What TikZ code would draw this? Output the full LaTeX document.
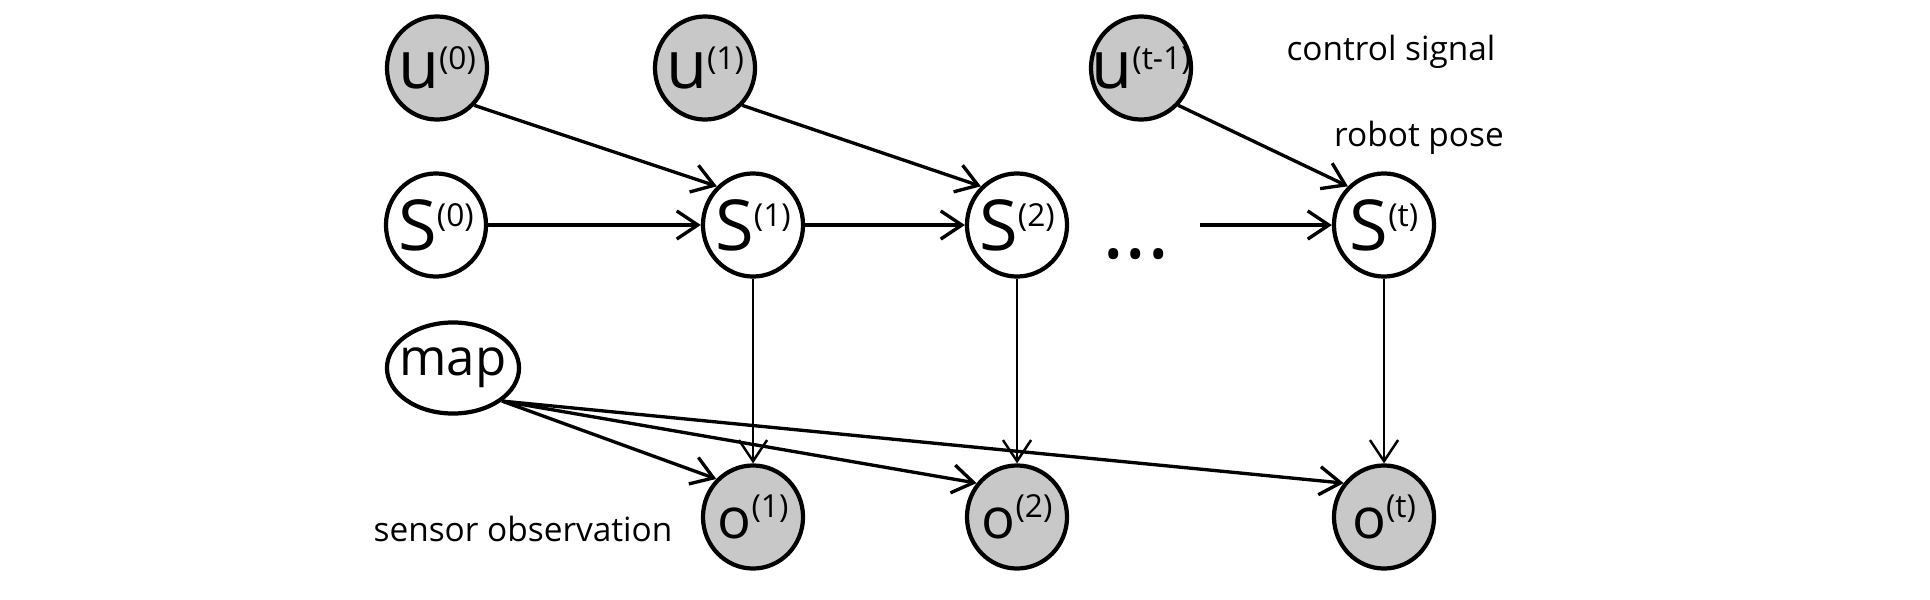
\documentclass[tikz,border=0pt]{standalone}
\usepackage{fontspec}
\setmainfont{Open Sans}
\usetikzlibrary{arrows.meta,shapes.geometric}
\definecolor{obsgray}{RGB}{200,200,200}
\newcommand{\nlab}[4]{\makebox[0pt][c]{{\fontsize{#1}{#1}\selectfont #2}\raisebox{#4}{\fontsize{9}{9}\selectfont #3}}}
\begin{document}
\begin{tikzpicture}[x=0.01cm,y=-0.01cm,
  gnode/.style={ellipse,draw,line width=1.2pt,inner sep=0pt,minimum width=1cm,minimum height=1.03cm},
  obs/.style={gnode,fill=obsgray},
  arr/.style={-{Straight Barb[length=6pt,width=8pt]},line width=0.95pt},
  varr/.style={arr,line width=0.7pt},
  note/.style={font=\fontsize{9.5}{11}\selectfont}]
\useasboundingbox (0,0) rectangle (1930,600);
% control nodes
\node[obs] (u0) at (437,68) {\nlab{19}{u}{(0)}{5.4pt}};
\node[obs] (u1) at (705,68) {\nlab{19}{u}{(1)}{5.4pt}};
\node[obs] (ut) at (1141,68) {\nlab{19}{u}{(t-1)}{5.4pt}};
% state nodes
\node[gnode] (s0) at (436,225) {\nlab{20}{S}{(0)}{6.8pt}};
\node[gnode] (s1) at (753,225) {\nlab{20}{S}{(1)}{6.8pt}};
\node[gnode] (s2) at (1017,225) {\nlab{20}{S}{(2)}{6.8pt}};
\node[gnode] (st) at (1384,225) {\nlab{20}{S}{(t)}{6.8pt}};
% map
\node[gnode,minimum width=1.32cm,minimum height=0.91cm] (map) at (453,368) {\makebox[0pt][c]{\fontsize{14.5}{14.5}\selectfont map}};
% observations
\node[obs] (o1) at (753,517) {\nlab{16}{o}{(1)}{6pt}};
\node[obs] (o2) at (1017,517) {\nlab{16}{o}{(2)}{6pt}};
\node[obs] (ot) at (1384,517) {\nlab{16}{o}{(t)}{6pt}};
% texts
\node[note] (cs) at (1391,52) {control signal};
\node[note] (rp) at (1419,138) {robot pose};
\node[note] (so) at (523,529) {sensor observation};
\node (dots) at (1136,254) {\fontsize{24}{24}\selectfont ...};
\coordinate (dstart) at (1200,225);
% edges
\draw[arr] (u0.-45) -- (s1.133);
\draw[arr] (u1.-45) -- (s2.133);
\draw[arr] (ut.-45) -- (st.133);
\draw[arr] (s0.east) -- (s1.west);
\draw[arr] (s1.east) -- (s2.west);
\draw[arr] (dstart) -- (st.west);
\draw[varr] (s1.south) -- (o1.north);
\draw[varr] (s2.south) -- (o2.north);
\draw[varr] (st.south) -- (ot.north);
\draw[arr] (map.-34) -- (o1.134);
\draw[arr] (map.-34) -- (o2.140);
\draw[arr] (map.-34) -- (ot.140);
\end{tikzpicture}
\end{document}
